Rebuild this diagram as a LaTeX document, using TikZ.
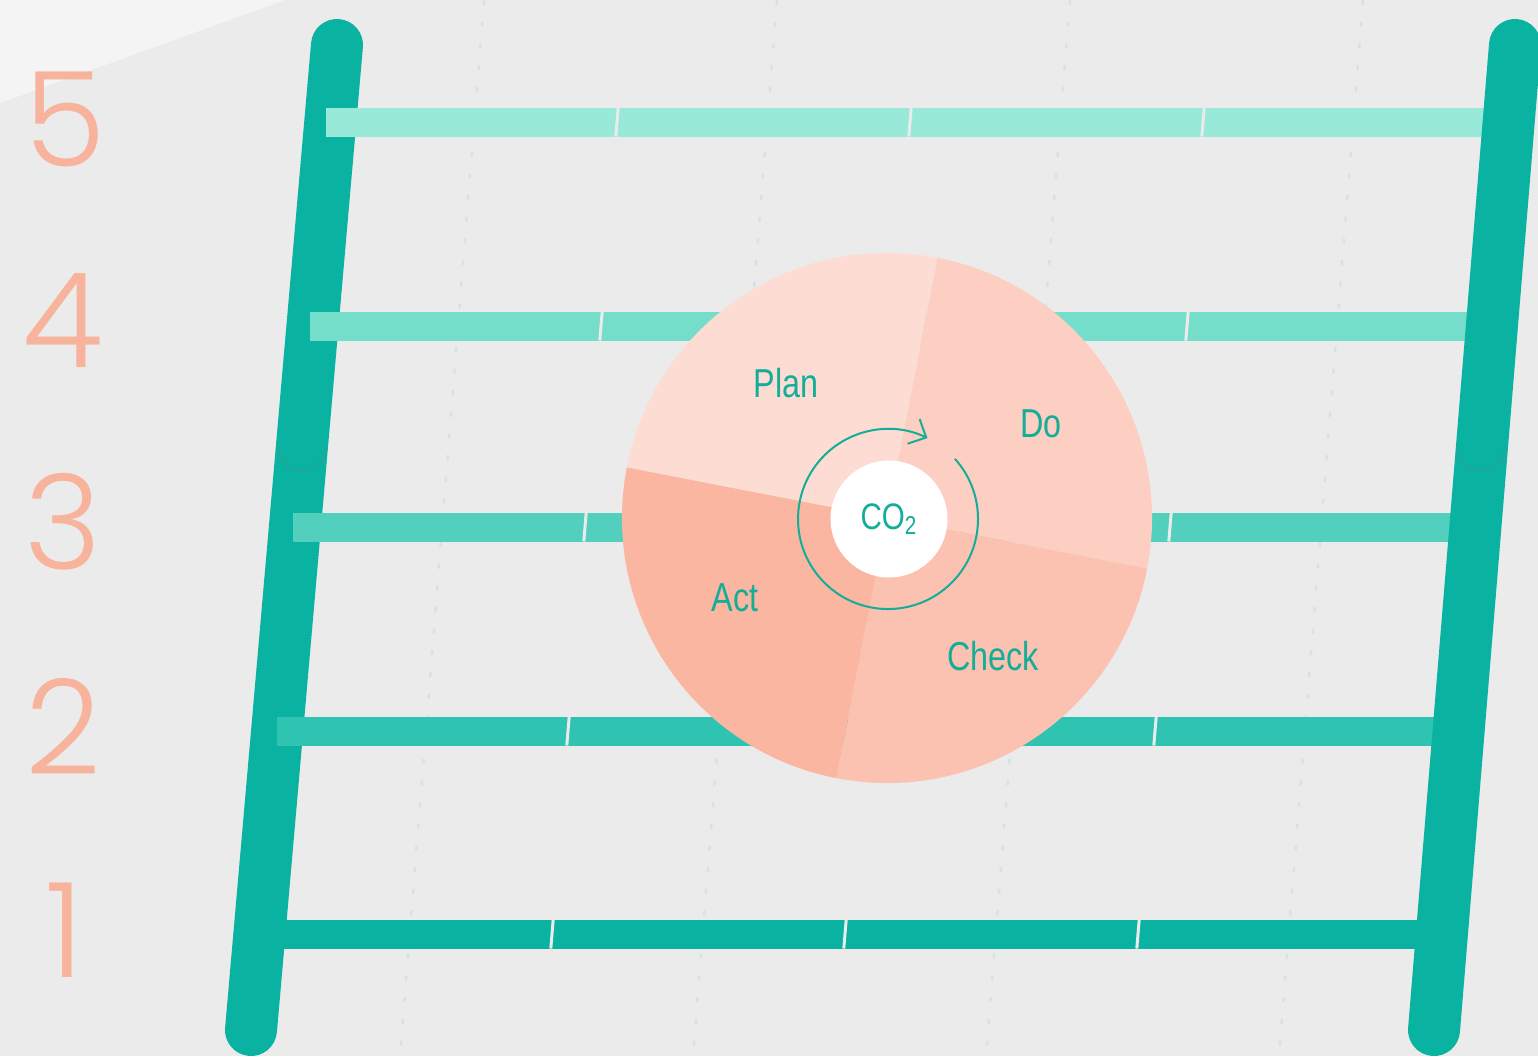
\documentclass[tikz,border=0pt]{standalone}
\usepackage{fontspec}
\setmainfont{Liberation Sans}[FakeStretch=0.8]
\newfontfamily\numfont{Poppins}[UprightFont=* Light]
\usetikzlibrary{arrows.meta}
\definecolor{bggray}{HTML}{EBEBEB}
\definecolor{bglight}{HTML}{F4F4F4}
\definecolor{railteal}{HTML}{0AB2A2}
\definecolor{seamteal}{HTML}{27A597}
\definecolor{rungE}{HTML}{99E9D9}
\definecolor{rungD}{HTML}{74DECB}
\definecolor{rungC}{HTML}{52D0BD}
\definecolor{rungB}{HTML}{2FC3B2}
\definecolor{rungA}{HTML}{0AB2A2}
\definecolor{dotmint}{HTML}{D2E6E1}
\definecolor{pieplan}{HTML}{FDDCD3}
\definecolor{piedo}{HTML}{FDCEC2}
\definecolor{piecheck}{HTML}{FCC2B1}
\definecolor{pieact}{HTML}{FBB6A2}
\definecolor{txtteal}{HTML}{14AE98}
\definecolor{salmon}{HTML}{F7B39B}

\begin{document}
\begin{tikzpicture}[
        x=0.02cm, y=-0.02cm,
        rail/.style={line width=1.04cm, line cap=round, railteal},
        seam/.style={line width=0.03cm, seamteal},
        gap/.style={line width=0.06cm, bggray},
        guide/.style={line width=0.05cm, dotmint, dash pattern=on 0.1cm off 0.335cm},
        lbl/.style={font=\fontsize{23}{26}\selectfont, text=txtteal, inner sep=0pt},
        num/.style={font=\numfont\fontsize{75}{80}\selectfont, text=salmon, inner sep=0pt},
        cycarrow/.style={line width=0.04cm, txtteal, -{Straight Barb[length=0.28cm, width=0.55cm]}},
        core/.style={circle, fill=white, minimum size=2.34cm, inner sep=0pt, text=txtteal, font=\fontsize{21}{23}\selectfont},
    ]

    % ===== Background =====
    \useasboundingbox (0,0) rectangle (1538,1056);
    \fill[bggray] (0,0) rectangle (1538,1056);
    \fill[bglight] (0,0) -- (285,0) -- (0,103) -- cycle;

    % ===== Dotted guides =====
    \foreach \i in {0,...,3} {
        \draw[guide] (484+293*\i,0) -- (400+293*\i,1056);
    }

    % ===== Ladder =====
    \coordinate (LT) at (337,45);
    \coordinate (LB) at (251,1030);
    \coordinate (RT) at (1515,45);
    \coordinate (RB) at (1434,1030);

    \draw[rail] (LT) -- (LB);
    \draw[seam] (326,447) arc[start angle=0, end angle=180, radius=24];

    \foreach \yc/\xl/\xr/\clr/\ga/\gb/\gc in {
        122/326/1495/rungE/617/910/1203,
        326/310/1478/rungD/601/894/1187,
        527/293/1460/rungC/585/878/1170,
        731/277/1443/rungB/568/861/1155,
        934/280/1426/rungA/552/845/1138%
    } {
        \fill[\clr] (\xl,\yc-14.5) rectangle (\xr,\yc+14.5);
        \foreach \g in {\ga,\gb,\gc}
            \draw[gap] (\g+1.2,\yc-14.5) -- (\g-1.2,\yc+14.5);
    }

    \draw[rail] (RT) -- (RB);
    \draw[seam] (1505,447) arc[start angle=0, end angle=180, radius=24];

    % ===== Level numbers =====
    \node[num] (n5) at (65,119) {5};
    \node[num] (n4) at (63,321) {4};
    \node[num] (n3) at (63,522) {3};
    \node[num] (n2) at (63,726) {2};
    \node[num] (n1) at (65,930) {1};

    % ===== PDCA wheel =====
    \coordinate (C) at (887,518);
    \foreach \a/\clr in {191/pieplan, 281/piedo, 11/piecheck, 101/pieact} {
        \fill[\clr] (C) -- ++(\a:265) arc[start angle=\a, end angle=\a+90, radius=265] -- cycle;
    }

    \draw[cycarrow] (954.9,458.8) arc[start angle=-42, end angle=296, radius=90];
    \node[core] (co2) at (889,519) {CO\textsubscript{2}};

    \node[lbl] (plan)  at (786,383) {Plan};
    \node[lbl] (do)    at (1041,424) {Do};
    \node[lbl] (act)   at (735,598) {Act};
    \node[lbl] (check) at (993,656) {Check};

\end{tikzpicture}
\end{document}
